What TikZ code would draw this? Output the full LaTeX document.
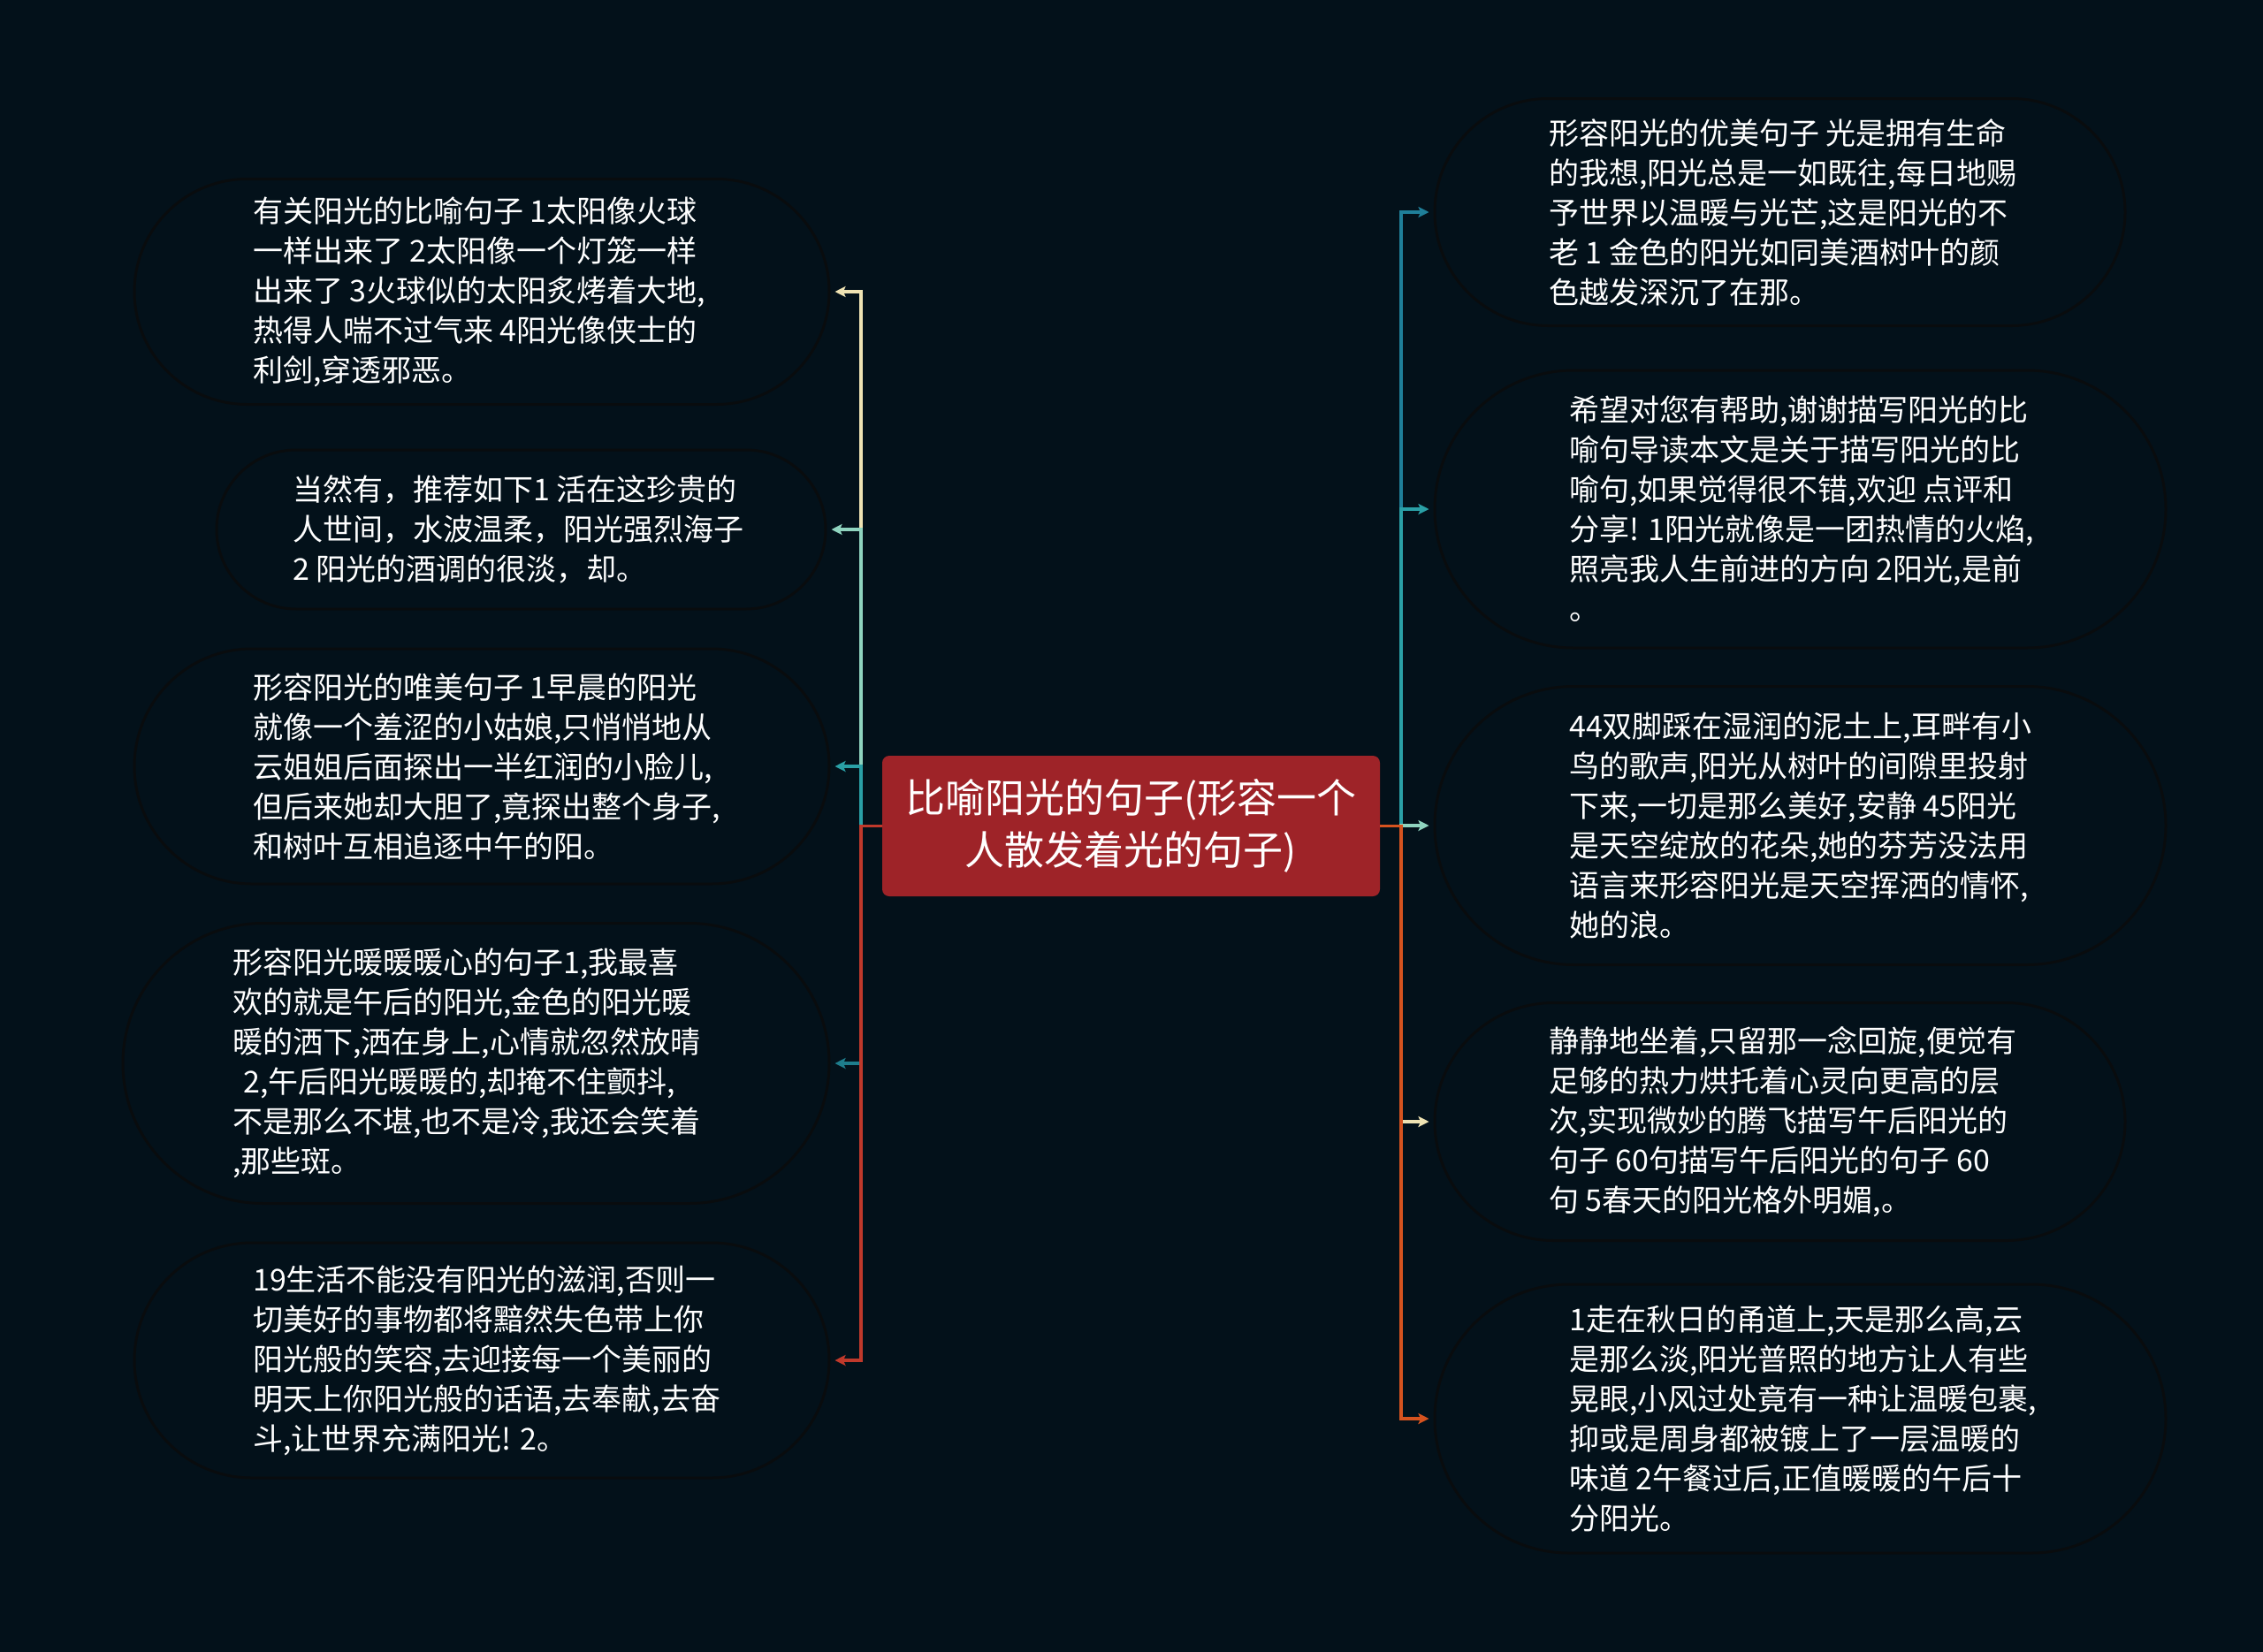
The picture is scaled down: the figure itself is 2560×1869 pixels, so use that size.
\documentclass[tikz,border=0pt]{standalone}
\usepackage{fontspec}
\newfontfamily\cjk{Noto Sans CJK SC}
\usetikzlibrary{arrows.meta,shapes.misc}
\definecolor{bg}{HTML}{03111A}
\definecolor{ringc}{HTML}{090C0E}
\definecolor{rootfill}{HTML}{9E2328}
\definecolor{ccream}{HTML}{EFE3B3}
\definecolor{cmint}{HTML}{8FD4BF}
\definecolor{cteal}{HTML}{2AA0A6}
\definecolor{cdteal}{HTML}{1E7D8C}
\definecolor{cred}{HTML}{C0392B}
\definecolor{cblue}{HTML}{1F7F99}
\definecolor{corange}{HTML}{D6531F}
\tikzset{
  leafbox/.style={shape=rounded rectangle, draw=ringc, line width=3pt, inner sep=0pt},
  leaftext/.style={anchor=west, align=left, inner sep=0pt, text=white,
    font={\cjk\fontsize{34pt}{45pt}\selectfont}},
  rootbox/.style={fill=rootfill, rounded corners=8pt, inner sep=0pt,
    minimum width=563pt, minimum height=159pt, align=center, text=white,
    font={\cjk\fontsize{45pt}{59pt}\selectfont}},
  conn/.style={line width=3.3pt, shorten >=5pt,
    -{Stealth[length=12pt,width=12pt,inset=2.5pt]}}
}
\begin{document}
\begin{tikzpicture}[x=1pt,y=-1pt]
\fill[bg] (0,0) rectangle (2560,1869);
\useasboundingbox (0,0) rectangle (2560,1869);

% root
\node[rootbox] (root) at (1279.5,934.5) {比喻阳光的句子(形容一个\\人散发着光的句子)};
\coordinate (lj) at (974,934.5);
\coordinate (rj) at (1585,934.5);

% left boxes
\node[leafbox, minimum width=786pt, minimum height=255pt] (L1) at (545,330) {};
\node[leaftext] (L1t) at (286,330) {有关阳光的比喻句子 1太阳像火球\\一样出来了 2太阳像一个灯笼一样\\出来了 3火球似的太阳炙烤着大地,\\热得人喘不过气来 4阳光像侠士的\\利剑,穿透邪恶。};

\node[leafbox, minimum width=689pt, minimum height=180pt] (L2) at (589.5,599) {};
\node[leaftext] (L2t) at (331,599) {当然有，推荐如下1 活在这珍贵的\\人世间，水波温柔，阳光强烈海子\\2 阳光的酒调的很淡，却。};

\node[leafbox, minimum width=786pt, minimum height=266pt] (L3) at (545,867) {};
\node[leaftext] (L3t) at (286,867) {形容阳光的唯美句子 1早晨的阳光\\就像一个羞涩的小姑娘,只悄悄地从\\云姐姐后面探出一半红润的小脸儿,\\但后来她却大胆了,竟探出整个身子,\\和树叶互相追逐中午的阳。};

\node[leafbox, minimum width=799pt, minimum height=317pt] (L4) at (538.5,1203) {};
\node[leaftext] (L4t) at (263,1203) {形容阳光暖暖暖心的句子1,我最喜\\欢的就是午后的阳光,金色的阳光暖\\暖的洒下,洒在身上,心情就忽然放晴\\\hspace*{12pt}2,午后阳光暖暖的,却掩不住颤抖,\\不是那么不堪,也不是冷,我还会笑着\\,那些斑。};

\node[leafbox, minimum width=786pt, minimum height=266pt] (L5) at (545,1539) {};
\node[leaftext] (L5t) at (286,1539) {19生活不能没有阳光的滋润,否则一\\切美好的事物都将黯然失色带上你\\阳光般的笑容,去迎接每一个美丽的\\明天上你阳光般的话语,去奉献,去奋\\斗,让世界充满阳光! 2。};

% right boxes
\node[leafbox, minimum width=781pt, minimum height=257pt] (R1) at (2013.5,240) {};
\node[leaftext] (R1t) at (1752,240) {形容阳光的优美句子 光是拥有生命\\的我想,阳光总是一如既往,每日地赐\\予世界以温暖与光芒,这是阳光的不\\老 1 金色的阳光如同美酒树叶的颜\\色越发深沉了在那。};

\node[leafbox, minimum width=827pt, minimum height=314pt] (R2) at (2036.5,576) {};
\node[leaftext] (R2t) at (1775,576) {希望对您有帮助,谢谢描写阳光的比\\喻句导读本文是关于描写阳光的比\\喻句,如果觉得很不错,欢迎 点评和\\分享! 1阳光就像是一团热情的火焰,\\照亮我人生前进的方向 2阳光,是前\\。};

\node[leafbox, minimum width=827pt, minimum height=315pt] (R3) at (2036.5,934) {};
\node[leaftext] (R3t) at (1775,934) {44双脚踩在湿润的泥土上,耳畔有小\\鸟的歌声,阳光从树叶的间隙里投射\\下来,一切是那么美好,安静 45阳光\\是天空绽放的花朵,她的芬芳没法用\\语言来形容阳光是天空挥洒的情怀,\\她的浪。};

\node[leafbox, minimum width=781pt, minimum height=269pt] (R4) at (2013.5,1269) {};
\node[leaftext] (R4t) at (1752,1269) {静静地坐着,只留那一念回旋,便觉有\\足够的热力烘托着心灵向更高的层\\次,实现微妙的腾飞描写午后阳光的\\句子 60句描写午后阳光的句子 60\\句 5春天的阳光格外明媚,。};

\node[leafbox, minimum width=827pt, minimum height=304pt] (R5) at (2036.5,1605) {};
\node[leaftext] (R5t) at (1775,1605) {1走在秋日的甬道上,天是那么高,云\\是那么淡,阳光普照的地方让人有些\\晃眼,小风过处竟有一种让温暖包裹,\\抑或是周身都被镀上了一层温暖的\\味道 2午餐过后,正值暖暖的午后十\\分阳光。};

% left connectors
\draw[conn, ccream] (root.west) -- (lj) |- (L1.east);
\draw[conn, cmint]  (root.west) -- (lj) |- (L2.east);
\draw[conn, cteal]  (root.west) -- (lj) |- (L3.east);
\draw[conn, cdteal] (root.west) -- (lj) |- (L4.east);
\draw[conn, cred]   (root.west) -- (lj) |- (L5.east);

% right connectors
\draw[conn, cblue]   (root.east) -- (rj) |- (R1.west);
\draw[conn, cteal]   (root.east) -- (rj) |- (R2.west);
\draw[conn, cmint]   (root.east) -- (rj) |- (R3.west);
\draw[conn, ccream]  (root.east) -- (rj) |- (R4.west);
\draw[conn, corange] (root.east) -- (rj) |- (R5.west);
\end{tikzpicture}
\end{document}
